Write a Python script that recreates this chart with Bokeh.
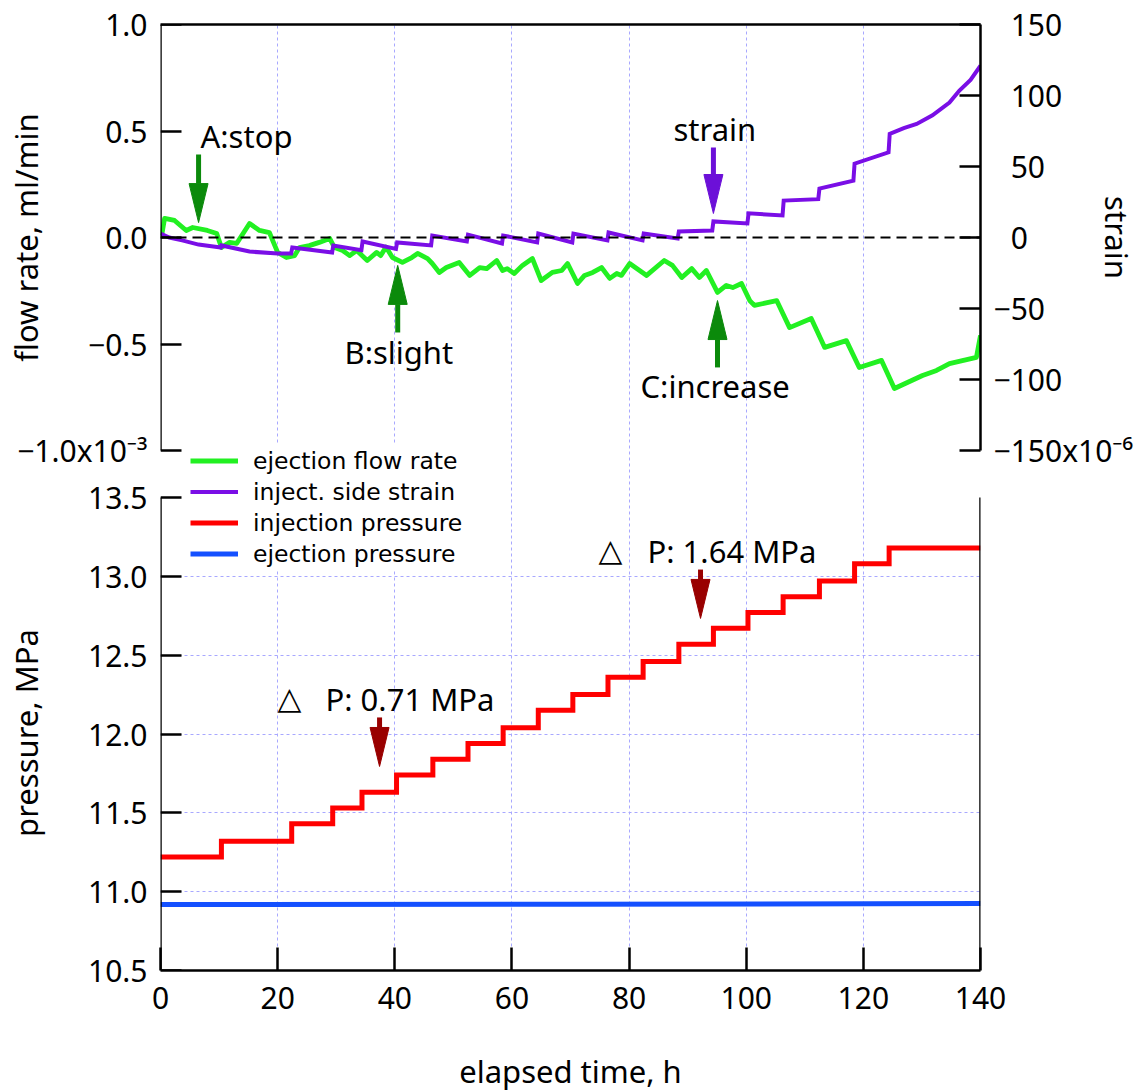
from bokeh.plotting import figure
from bokeh.models import (Range1d, LinearAxis, FixedTicker, Span, Label, Legend,
                          LegendItem, CustomJSTickFormatter)
from bokeh.embed import file_html
from bokeh.resources import INLINE

# ---------------- data ----------------
x_ticks = [0, 20, 40, 60, 80, 100, 120, 140]
flow_ticks = [-1.0, -0.5, 0.0, 0.5, 1.0]
flow_tick_labels = ["\u22121.0x10\u207b\u00b3", "\u22120.5", "0.0", "0.5", "1.0"]
strain_ticks = [-150, -100, -50, 0, 50, 100, 150]
strain_tick_labels = ["\u2212150x10\u207b\u2076", "\u2212100", "\u221250", "\u20070",
                      "\u200750", "\u2007100", "\u2007150"]
p_ticks = [10.5, 11.0, 11.5, 12.0, 12.5, 13.0, 13.5]
p_tick_labels = ["10.5", "11.0", "11.5", "12.0", "12.5", "13.0", "13.5"]

# ejection flow rate (x1e-3 ml/min)
flow_t = [0, 0.2, 0.7, 2.4, 4.4, 5.5, 8.0, 9.6, 10.4, 11.8, 13.0, 15.2, 16.9, 18.6, 20.0,
          21.5, 22.9, 23.7, 25.4, 27.1, 28.9, 29.7, 31.1, 32.3, 33.5, 35.3, 36.9, 37.6,
          38.5, 39.6, 41.3, 42.9, 43.9, 45.6, 46.4, 47.6, 48.8, 51.0, 52.8, 54.5, 55.7,
          57.4, 58.4, 59.2, 60.4, 61.8, 63.5, 65.0, 66.9, 68.5, 69.5, 71.2, 72.4, 73.8,
          75.3, 76.7, 77.9, 78.7, 80.1, 83.0, 86.0, 87.4, 89.0, 90.7, 92.0, 93.2, 95.1,
          96.6, 97.7, 99.2, 100.6, 101.4, 105.2, 107.4, 111.1, 113.4, 117.1, 119.3, 123.1,
          125.3, 130.1, 132.5, 134.7, 139.3, 140.0]
flow_v = [0.01, 0.01, 0.09, 0.08, 0.033, 0.047, 0.033, 0.019, -0.047, -0.023, -0.028,
          0.066, 0.033, 0.023, -0.07, -0.094, -0.085, -0.047, -0.038, -0.023, -0.005,
          -0.047, -0.061, -0.085, -0.061, -0.108, -0.07, -0.085, -0.045, -0.094, -0.117,
          -0.094, -0.075, -0.099, -0.122, -0.164, -0.141, -0.117, -0.178, -0.141, -0.146,
          -0.108, -0.155, -0.146, -0.169, -0.131, -0.099, -0.202, -0.164, -0.155, -0.122,
          -0.216, -0.178, -0.164, -0.141, -0.192, -0.169, -0.178, -0.122, -0.178, -0.108,
          -0.131, -0.188, -0.146, -0.188, -0.155, -0.258, -0.225, -0.235, -0.216, -0.296,
          -0.319, -0.296, -0.423, -0.380, -0.516, -0.484, -0.610, -0.577, -0.709, -0.648,
          -0.624, -0.592, -0.563, -0.460]

# inject. side strain (x1e-6)
strain_t = [0, 1.5, 3.7, 6.5, 10.3, 10.4, 15.2, 20.0, 22.3, 22.5, 29.3, 29.5, 34.3, 34.5,
            40.2, 40.4, 46.2, 46.4, 52.3, 52.5, 58.3, 58.5, 64.3, 64.5, 70.3, 70.5, 76.3,
            76.5, 82.3, 82.5, 88.3, 88.5, 94.2, 94.4, 100.2, 100.4, 106.2, 106.4, 112.3,
            112.5, 118.3, 118.5, 124.3, 124.5, 126.9, 129.1, 131.8, 134.7, 136.4, 138.3,
            140.0]
strain_v = [2.8, 0, -2, -5, -7, -5.6, -9.9, -11.3, -11.3, -7, -10.6, -5.6, -9, -2.8, -8,
            -3.5, -5.6, 1.4, -2.8, 2, -4.2, 1.4, -3.5, 2.8, -3.5, 2.8, -2, 3.5, -2, 2.8,
            -0.7, 4.2, 4.9, 11.3, 9.9, 17, 15.5, 26, 27, 34.5, 40, 52, 60, 73, 77, 80, 86,
            95, 103.5, 111, 121]

# injection pressure (MPa), stepwise
inj_t = [0, 10.4, 22.4, 29.4, 34.4, 40.3, 46.5, 52.5, 58.5, 64.5, 70.4, 76.4, 82.4, 88.5,
         94.4, 100.3, 106.3, 112.5, 118.5, 124.4, 140]
inj_p = [11.22, 11.32, 11.43, 11.53, 11.63, 11.74, 11.84, 11.94, 12.04, 12.15, 12.25,
         12.36, 12.46, 12.57, 12.67, 12.77, 12.87, 12.97, 13.08, 13.18, 13.18]

# ejection pressure (MPa)
ej_t = [0, 70, 140]
ej_p = [10.918, 10.920, 10.925]

legend_labels = ["ejection flow rate", "inject. side strain", "injection pressure",
                 "ejection pressure"]
left_titles = ["flow rate, ml/min", "pressure, MPa"]
right_title = "strain"
x_title = "elapsed time, h"

# annotations: arrows (x, tail, tip)
g_arrow_x = [6.5, 40.5, 95.1]
g_arrow_tail = [0.39, -0.446, -0.61]
g_arrow_tip = [0.07, -0.131, -0.296]
s_arrow_x = [94.4]
s_arrow_tail = [63.4]
s_arrow_tip = [16.9]
r_arrow_x = [37.4, 92.2]
r_arrow_tail = [12.105, 13.043]
r_arrow_tip = [11.794, 12.733]

# ---------------- geometry ----------------
FW, FH = 820, 946
TOP_H, GAP_H, BOT_H = 426, 47, 473
X_LO, X_HI = x_ticks[0], x_ticks[-1]
xu = (X_HI - X_LO) / FW                      # data units per px (x)
P_LO, P_HI = p_ticks[0], p_ticks[-1]
pu = (P_HI - P_LO) / BOT_H
Y_HI = P_LO + FH * pu
F_LO, F_HI = flow_ticks[0], flow_ticks[-1]
fu = (F_HI - F_LO) / TOP_H
S_LO, S_HI = strain_ticks[0], strain_ticks[-1]
su = (S_HI - S_LO) / TOP_H


def flow_to_p(f):
    return Y_HI - (F_HI - f) / fu * pu


FONT = "Noto Sans"
GREEN, PURPLE, RED, BLUE = "#22f022", "#7a0ee6", "#ff0000", "#1450ff"
A_GREEN, A_PURPLE, A_RED = "#0b8a0b", "#6c10d8", "#990000"
GRID = "#a8a8ff"

p = figure(frame_width=FW, frame_height=FH, x_range=Range1d(X_LO, X_HI),
           y_range=Range1d(P_LO, Y_HI), output_backend="svg", toolbar_location=None,
           y_axis_location=None,
           min_border_left=160, min_border_right=167, min_border_top=24,
           min_border_bottom=120, background_fill_color="white",
           border_fill_color="white")
p.outline_line_color = None
p.extra_y_ranges = {"flow": Range1d(F_LO - (GAP_H + BOT_H) * fu, F_HI),
                    "strain": Range1d(S_LO - (GAP_H + BOT_H) * su, S_HI)}

# grids
p.xgrid[0].ticker = FixedTicker(ticks=x_ticks[1:-1])
p.ygrid[0].ticker = FixedTicker(ticks=p_ticks[1:-1])
for g in (p.xgrid[0], p.ygrid[0]):
    g.grid_line_color = GRID
    g.grid_line_dash = "3 3"
    g.grid_line_width = 1

fmt_code = """
let best = 0, bd = Infinity;
for (let i = 0; i < vals.length; i++) {
  const d = Math.abs(vals[i] - tick);
  if (d < bd) { bd = d; best = i; }
}
return labs[best];
"""


def style_axis(ax, tick_in, ticks, labels=None, line=True, size="30px"):
    ax.ticker = FixedTicker(ticks=ticks)
    ax.major_tick_in = tick_in
    ax.major_tick_out = 0
    ax.minor_tick_in = 0
    ax.minor_tick_out = 0
    ax.major_tick_line_width = 2.5
    ax.major_tick_line_color = "black" if tick_in else None
    ax.axis_line_width = 2.5
    ax.axis_line_color = "black" if line else None
    ax.major_label_text_font = FONT
    ax.major_label_text_font_size = size
    ax.major_label_text_color = "black"
    ax.major_label_standoff = 13
    ax.axis_label_text_font = FONT
    ax.axis_label_text_font_size = "31px"
    ax.axis_label_text_font_style = "normal"
    ax.axis_label_text_color = "black"
    if labels is not None:
        ax.formatter = CustomJSTickFormatter(
            args=dict(vals=[float(v) for v in ticks], labs=labels), code=fmt_code)


# bottom x axis
xa = p.xaxis[0]
style_axis(xa, 23, x_ticks)
xa.major_label_standoff = 16
xa.axis_label = x_title
xa.axis_label_standoff = 38

# top border
ta = LinearAxis()
style_axis(ta, 0, [])
ta.major_label_standoff = 0
p.add_layout(ta, "above")

# left: frame lines + ticks of each panel (fixed at frame edge, take no space)
fa = LinearAxis(y_range_name="flow", bounds=(F_LO, F_HI), fixed_location=X_LO)
style_axis(fa, 21, flow_ticks)
p.add_layout(fa, "left")
pa = LinearAxis(bounds=(P_LO, P_HI), fixed_location=X_LO)
style_axis(pa, 21, p_ticks)
p.add_layout(pa, "left")
# left: tick labels of both panels
left_vals = list(p_ticks) + [flow_to_p(f) for f in flow_ticks]
left_labs = list(p_tick_labels) + list(flow_tick_labels)
la = LinearAxis()
style_axis(la, 0, left_vals, left_labs, line=False)
p.add_layout(la, "left")
# left: titles of both panels
lt = LinearAxis()
style_axis(lt, 0, [flow_to_p(0.0), P_HI - (732.5 - 497) * pu], left_titles,
           line=False, size="31px")
lt.major_label_orientation = "vertical"
lt.major_label_standoff = -32
p.add_layout(lt, "left")

# right: strain axis (top panel), lower panel border, title
sa = LinearAxis(y_range_name="strain", bounds=(S_LO, S_HI))
style_axis(sa, 21, strain_ticks, strain_tick_labels)
p.add_layout(sa, "right")
rb = LinearAxis(bounds=(P_LO, P_HI), fixed_location=X_HI)
style_axis(rb, 0, [])
rb.major_label_standoff = 0
p.add_layout(rb, "right")
rt = LinearAxis(y_range_name="strain")
style_axis(rt, 0, [0.0], [right_title], line=False, size="31px")
rt.major_label_orientation = "vertical"
rt.major_label_standoff = -40
p.add_layout(rt, "right")

# zero line
p.add_layout(Span(location=0, dimension="width", y_range_name="flow",
                  line_color="black", line_dash="10 6", line_width=2))

# data lines
r_flow = p.line(flow_t, flow_v, y_range_name="flow", line_color=GREEN, line_width=4.8,
                line_join="round")
r_strain = p.line(strain_t, strain_v, y_range_name="strain", line_color=PURPLE,
                  line_width=4, line_join="miter")
r_inj = p.step(inj_t, inj_p, mode="after", line_color=RED, line_width=5,
               line_join="miter")
r_ej = p.line(ej_t, ej_p, line_color=BLUE, line_width=5)

# arrows (shaft + head)
HEAD_LEN, HEAD_W, SHAFT_W = 39, 19, 5


def add_arrows(xs, tails, tips, unit, rng, color):
    sx0, sy0, sx1, sy1, hx, hy = [], [], [], [], [], []
    for x, tail, tip in zip(xs, tails, tips):
        d = 1 if tail > tip else -1
        base = tip + d * HEAD_LEN * unit
        sx0.append(x); sy0.append(tail); sx1.append(x); sy1.append(base)
        hw = HEAD_W / 2 * xu
        hx.append([x - hw, x + hw, x])
        hy.append([base, base, tip])
    p.segment(sx0, sy0, sx1, sy1, y_range_name=rng, line_color=color,
              line_width=SHAFT_W)
    p.patches(hx, hy, y_range_name=rng, fill_color=color, line_color=color,
              line_width=1)


add_arrows(g_arrow_x, g_arrow_tail, g_arrow_tip, fu, "flow", A_GREEN)
add_arrows(s_arrow_x, s_arrow_tail, s_arrow_tip, su, "strain", A_PURPLE)
add_arrows(r_arrow_x, r_arrow_tail, r_arrow_tip, pu, "default", A_RED)

SHIFT = 12  # px


def txt(text, x, y, rng="default", size="31px", font=FONT):
    p.add_layout(Label(x=x, y=y, y_range_name=rng, text=text, text_font=font,
                       text_font_size=size, text_color="black",
                       text_align="left", text_baseline="alphabetic"))


# annotation texts
txt("A:stop", X_LO + 40 * xu, (237 - 147 + SHIFT) * fu, "flow")
txt("B:slight", X_LO + 184 * xu, (237 - 363 + SHIFT) * fu, "flow")
txt("C:increase", X_LO + 480 * xu, (237 - 397 + SHIFT) * fu, "flow")
txt("strain", X_LO + 513 * xu, (237 - 140 + SHIFT) * su, "strain")
txt("\u25b3", X_LO + 117 * xu, P_HI - (709 - 497 - SHIFT) * pu, font="DejaVu Sans")
txt("P: 0.71 MPa", X_LO + 165 * xu, P_HI - (710 - 497 - SHIFT) * pu)
txt("\u25b3", X_LO + 438 * xu, P_HI - (561 - 497 - SHIFT) * pu, font="DejaVu Sans")
txt("P: 1.64 MPa", X_LO + 487 * xu, P_HI - (562 - 497 - SHIFT) * pu)

# legend
legend = Legend(items=[LegendItem(label=l, renderers=[r]) for l, r in
                       zip(legend_labels, [r_flow, r_strain, r_inj, r_ej])],
                location=(30, 401), glyph_width=48, glyph_height=31, label_height=31,
                label_standoff=15, spacing=0, padding=0, margin=0,
                border_line_color=None, background_fill_color="white",
                background_fill_alpha=1.0, label_text_font="DejaVu Sans",
                label_text_font_size="23.5px", label_text_color="black")
p.add_layout(legend)

open("out.html", "w").write(file_html(p, INLINE))
